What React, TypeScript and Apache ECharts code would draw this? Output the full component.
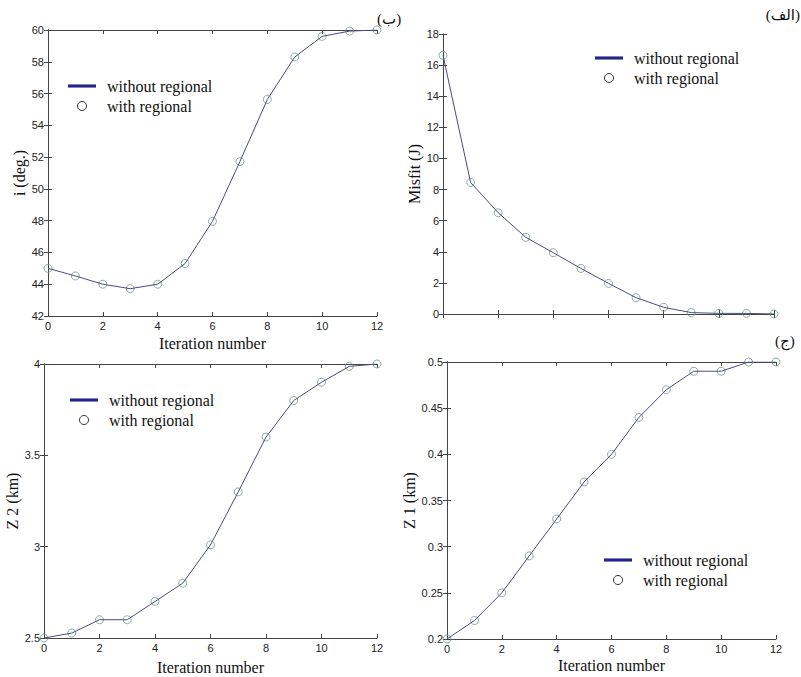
import React, { useEffect, useRef } from "react";
import * as echarts from "echarts";

const iterations = [0, 1, 2, 3, 4, 5, 6, 7, 8, 9, 10, 11, 12];
const inclination = [45, 44.52, 44, 43.72, 44, 45.3, 47.96, 51.72, 55.63, 58.3, 59.6, 59.93, 60];
const misfit = [16.63, 8.46, 6.51, 4.93, 3.94, 2.93, 1.97, 1.05, 0.43, 0.09, 0.04, 0.04, 0];
const z2 = [2.5, 2.527, 2.6, 2.6, 2.7, 2.8, 3.01, 3.3, 3.6, 3.8, 3.9, 3.987, 4];
const z1 = [0.2, 0.22, 0.25, 0.29, 0.33, 0.37, 0.4, 0.44, 0.47, 0.49, 0.49, 0.5, 0.5];

const seriesNames = ["without regional", "with regional"];
const xName = "Iteration number";
const panelLabels = ["(ب)", "(الف)", "(ج)"];

const panels = [
  { values: inclination, yName: "i (deg.)", min: 42, max: 60, interval: 2, grid: { left: 48, top: 30, width: 329, height: 286 }, yGap: 9, xGap: 19, xLabels: true, legend: { left: 68, top: 78 } },
  { values: misfit, yName: "Misfit (J)", min: 0, max: 18, interval: 2, grid: { left: 443, top: 34, width: 331, height: 280 }, yGap: 18, xGap: 19, xLabels: false, legend: { left: 595, top: 50 } },
  { values: z2, yName: "Z 2 (km)", min: 2.5, max: 4, interval: 0.5, grid: { left: 44, top: 364, width: 333, height: 274 }, yGap: 21, xGap: 21, xLabels: true, legend: { left: 70, top: 392 } },
  { values: z1, yName: "Z 1 (km)", min: 0.2, max: 0.5, interval: 0.05, grid: { left: 447, top: 362, width: 329, height: 277 }, yGap: 27, xGap: 18, xLabels: true, legend: { left: 604, top: 552 } },
];

const AXIS_COLOR = "#444";
const LINE_COLOR = "#4b4b80";
const CIRCLE_COLOR = "#6f9880";
const LEGEND_NAVY = "#23238a";

export default function App() {
  const ref = useRef<HTMLDivElement>(null);
  useEffect(() => {
    if (!ref.current) return;
    const chart = echarts.init(ref.current, undefined, { renderer: "svg" });
    const grid: any[] = [];
    const xAxis: any[] = [];
    const yAxis: any[] = [];
    const series: any[] = [];
    const legend: any[] = [];
    panels.forEach((p, i) => {
      grid.push({ ...p.grid, containLabel: false });
      const axisLine = { show: true, lineStyle: { color: AXIS_COLOR, width: 1 } };
      const axisTick = { show: true, inside: true, length: 4, lineStyle: { color: AXIS_COLOR } };
      xAxis.push({
        type: "value", gridIndex: i, min: 0, max: 12, interval: 2, position: "bottom",
        axisLine, axisTick, splitLine: { show: false },
        axisLabel: { show: p.xLabels, margin: 4, color: "#222", fontFamily: "Liberation Sans, Arial", fontSize: 11 },
        name: p.xLabels ? xName : "", nameLocation: "middle", nameGap: p.xGap,
        nameTextStyle: { color: "#111", fontFamily: "Liberation Serif, Times New Roman", fontSize: 16 },
      });
      xAxis.push({
        type: "value", gridIndex: i, min: 0, max: 12, interval: 2, position: "top",
        axisLine, axisTick, splitLine: { show: false }, axisLabel: { show: false },
      });
      yAxis.push({
        type: "value", gridIndex: i, min: p.min, max: p.max, interval: p.interval, position: "left",
        axisLine, axisTick, splitLine: { show: false },
        axisLabel: { margin: 4, color: "#222", fontFamily: "Liberation Sans, Arial", fontSize: 11 },
        name: p.yName, nameLocation: "middle", nameGap: p.yGap,
        nameTextStyle: { color: "#111", fontFamily: "Liberation Serif, Times New Roman", fontSize: 16 },
      });
      yAxis.push({
        type: "value", gridIndex: i, min: p.min, max: p.max, interval: p.interval, position: "right",
        axisLine, axisTick, splitLine: { show: false }, axisLabel: { show: false },
      });
      const data = iterations.map((x, k) => [x, p.values[k]]);
      series.push({
        type: "line", name: seriesNames[0], xAxisIndex: 2 * i, yAxisIndex: 2 * i, data,
        showSymbol: false, symbol: "none", lineStyle: { color: LINE_COLOR, width: 1 }, itemStyle: { color: LINE_COLOR },
      });
      series.push({
        type: "scatter", name: seriesNames[1], xAxisIndex: 2 * i, yAxisIndex: 2 * i, data,
        symbol: "circle", symbolSize: 8,
        itemStyle: { color: "rgba(255,255,255,0)", borderColor: CIRCLE_COLOR, borderWidth: 1 },
      });
      legend.push({
        left: p.legend.left, top: p.legend.top, orient: "vertical", itemWidth: 28, itemHeight: 9, itemGap: 4,
        padding: 0, selectedMode: false, symbolKeepAspect: true,
        textStyle: { color: "#111", fontFamily: "Liberation Serif, Times New Roman", fontSize: 16, padding: [0, 0, 0, 6] },
        data: [
          { name: seriesNames[0], icon: "path://M0,0H27V3H0Z", itemStyle: { color: LEGEND_NAVY, borderWidth: 0 } },
          { name: seriesNames[1], icon: "circle", itemStyle: { color: "rgba(255,255,255,0)", borderColor: "#000", borderWidth: 1 } },
        ],
      });
    });
    const labelStyle = { fill: "#111", fontFamily: "Liberation Serif, DejaVu Sans", fontSize: 15 };
    chart.setOption({
      animation: false,
      backgroundColor: "#fff",
      grid, xAxis, yAxis, series, legend,
      graphic: [
        { type: "text", left: 377, top: 11, style: { ...labelStyle, text: panelLabels[0] } },
        { type: "text", right: 1, top: 7, style: { ...labelStyle, text: panelLabels[1] } },
        { type: "text", left: 775, top: 333, style: { ...labelStyle, text: panelLabels[2] } },
      ],
    });
    return () => chart.dispose();
  }, []);
  return <div ref={ref} style={{ position: "absolute", left: 0, top: 0, width: 801, height: 677 }} />;
}
